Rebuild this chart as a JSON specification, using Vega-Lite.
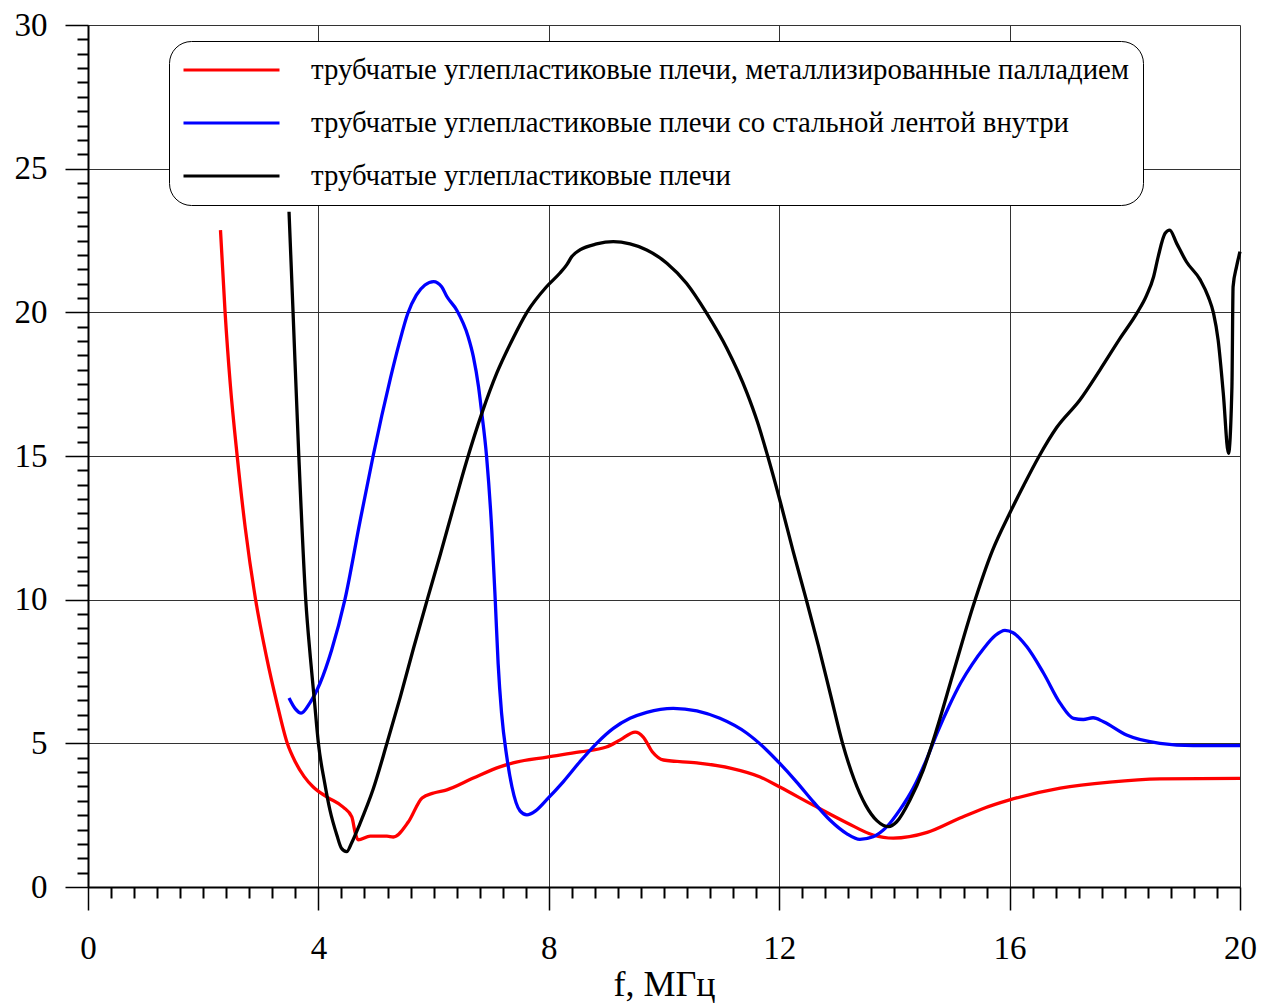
{
  "$schema": "https://vega.github.io/schema/vega-lite/v6.json",
  "width": 1152,
  "height": 862,
  "autosize": "none",
  "padding": {"left": 88, "top": 25, "right": 30, "bottom": 120},
  "background": "white",
  "config": {"view": {"stroke": null}, "font": "Liberation Serif"},
  "datasets": {
    "curves": [
      {"s": "трубчатые углепластиковые плечи, металлизированные палладием", "f": 2.30, "v": 22.86},
      {"s": "трубчатые углепластиковые плечи, металлизированные палладием", "f": 2.38, "v": 20.0},
      {"s": "трубчатые углепластиковые плечи, металлизированные палладием", "f": 2.47, "v": 17.5},
      {"s": "трубчатые углепластиковые плечи, металлизированные палладием", "f": 2.59, "v": 15.0},
      {"s": "трубчатые углепластиковые плечи, металлизированные палладием", "f": 2.73, "v": 12.5},
      {"s": "трубчатые углепластиковые плечи, металлизированные палладием", "f": 2.91, "v": 10.0},
      {"s": "трубчатые углепластиковые плечи, металлизированные палладием", "f": 3.10, "v": 8.0},
      {"s": "трубчатые углепластиковые плечи, металлизированные палладием", "f": 3.28, "v": 6.4},
      {"s": "трубчатые углепластиковые плечи, металлизированные палладием", "f": 3.46, "v": 5.0},
      {"s": "трубчатые углепластиковые плечи, металлизированные палладием", "f": 3.60, "v": 4.35},
      {"s": "трубчатые углепластиковые плечи, металлизированные палладием", "f": 3.75, "v": 3.85},
      {"s": "трубчатые углепластиковые плечи, металлизированные палладием", "f": 3.91, "v": 3.48},
      {"s": "трубчатые углепластиковые плечи, металлизированные палладием", "f": 4.15, "v": 3.13},
      {"s": "трубчатые углепластиковые плечи, металлизированные палладием", "f": 4.43, "v": 2.78},
      {"s": "трубчатые углепластиковые плечи, металлизированные палладием", "f": 4.58, "v": 2.44},
      {"s": "трубчатые углепластиковые плечи, металлизированные палладием", "f": 4.64, "v": 1.88},
      {"s": "трубчатые углепластиковые плечи, металлизированные палладием", "f": 4.69, "v": 1.64},
      {"s": "трубчатые углепластиковые плечи, металлизированные палладием", "f": 4.90, "v": 1.77},
      {"s": "трубчатые углепластиковые плечи, металлизированные палладием", "f": 5.19, "v": 1.77},
      {"s": "трубчатые углепластиковые плечи, металлизированные палладием", "f": 5.30, "v": 1.74},
      {"s": "трубчатые углепластиковые плечи, металлизированные палладием", "f": 5.56, "v": 2.26},
      {"s": "трубчатые углепластиковые плечи, металлизированные палладием", "f": 5.80, "v": 3.10},
      {"s": "трубчатые углепластиковые плечи, металлизированные палладием", "f": 6.00, "v": 3.27},
      {"s": "трубчатые углепластиковые плечи, металлизированные палладием", "f": 6.23, "v": 3.38},
      {"s": "трубчатые углепластиковые плечи, металлизированные палладием", "f": 6.69, "v": 3.79},
      {"s": "трубчатые углепластиковые плечи, металлизированные палладием", "f": 7.15, "v": 4.18},
      {"s": "трубчатые углепластиковые плечи, металлизированные палладием", "f": 7.38, "v": 4.32},
      {"s": "трубчатые углепластиковые плечи, металлизированные палладием", "f": 7.97, "v": 4.52},
      {"s": "трубчатые углепластиковые плечи, металлизированные палладием", "f": 8.54, "v": 4.70},
      {"s": "трубчатые углепластиковые плечи, металлизированные палладием", "f": 9.00, "v": 4.87},
      {"s": "трубчатые углепластиковые плечи, металлизированные палладием", "f": 9.24, "v": 5.12},
      {"s": "трубчатые углепластиковые плечи, металлизированные палладием", "f": 9.50, "v": 5.39},
      {"s": "трубчатые углепластиковые плечи, металлизированные палладием", "f": 9.64, "v": 5.22},
      {"s": "трубчатые углепластиковые плечи, металлизированные палладием", "f": 9.80, "v": 4.70},
      {"s": "трубчатые углепластиковые плечи, металлизированные палладием", "f": 9.99, "v": 4.42},
      {"s": "трубчатые углепластиковые плечи, металлизированные палладием", "f": 10.57, "v": 4.32},
      {"s": "трубчатые углепластиковые плечи, металлизированные палладием", "f": 11.15, "v": 4.14},
      {"s": "трубчатые углепластиковые плечи, металлизированные палладием", "f": 11.67, "v": 3.83},
      {"s": "трубчатые углепластиковые плечи, металлизированные палладием", "f": 12.01, "v": 3.48},
      {"s": "трубчатые углепластиковые плечи, металлизированные палладием", "f": 12.59, "v": 2.85},
      {"s": "трубчатые углепластиковые плечи, металлизированные палладием", "f": 13.18, "v": 2.23},
      {"s": "трубчатые углепластиковые плечи, металлизированные палладием", "f": 13.63, "v": 1.81},
      {"s": "трубчатые углепластиковые плечи, металлизированные палладием", "f": 13.98, "v": 1.70},
      {"s": "трубчатые углепластиковые плечи, металлизированные палладием", "f": 14.57, "v": 1.90},
      {"s": "трубчатые углепластиковые плечи, металлизированные палладием", "f": 15.14, "v": 2.40},
      {"s": "трубчатые углепластиковые плечи, металлизированные палладием", "f": 15.50, "v": 2.70},
      {"s": "трубчатые углепластиковые плечи, металлизированные палладием", "f": 16.00, "v": 3.03},
      {"s": "трубчатые углепластиковые плечи, металлизированные палладием", "f": 16.88, "v": 3.44},
      {"s": "трубчатые углепластиковые плечи, металлизированные палладием", "f": 17.74, "v": 3.65},
      {"s": "трубчатые углепластиковые плечи, металлизированные палладием", "f": 18.61, "v": 3.76},
      {"s": "трубчатые углепластиковые плечи, металлизированные палладием", "f": 20.00, "v": 3.78},

      {"s": "трубчатые углепластиковые плечи со стальной лентой внутри", "f": 3.49, "v": 6.58},
      {"s": "трубчатые углепластиковые плечи со стальной лентой внутри", "f": 3.60, "v": 6.20},
      {"s": "трубчатые углепластиковые плечи со стальной лентой внутри", "f": 3.70, "v": 6.05},
      {"s": "трубчатые углепластиковые плечи со стальной лентой внутри", "f": 3.85, "v": 6.40},
      {"s": "трубчатые углепластиковые плечи со стальной лентой внутри", "f": 4.03, "v": 7.10},
      {"s": "трубчатые углепластиковые плечи со стальной лентой внутри", "f": 4.23, "v": 8.25},
      {"s": "трубчатые углепластиковые плечи со стальной лентой внутри", "f": 4.46, "v": 10.0},
      {"s": "трубчатые углепластиковые плечи со стальной лентой внутри", "f": 4.72, "v": 12.7},
      {"s": "трубчатые углепластиковые плечи со стальной лентой внутри", "f": 4.95, "v": 15.0},
      {"s": "трубчатые углепластиковые плечи со стальной лентой внутри", "f": 5.10, "v": 16.4},
      {"s": "трубчатые углепластиковые плечи со стальной лентой внутри", "f": 5.25, "v": 17.7},
      {"s": "трубчатые углепластиковые плечи со стальной лентой внутри", "f": 5.40, "v": 18.9},
      {"s": "трубчатые углепластиковые плечи со стальной лентой внутри", "f": 5.55, "v": 19.95},
      {"s": "трубчатые углепластиковые плечи со стальной лентой внутри", "f": 5.70, "v": 20.6},
      {"s": "трубчатые углепластиковые плечи со стальной лентой внутри", "f": 5.85, "v": 20.95},
      {"s": "трубчатые углепластиковые плечи со стальной лентой внутри", "f": 6.00, "v": 21.07},
      {"s": "трубчатые углепластиковые плечи со стальной лентой внутри", "f": 6.14, "v": 20.89},
      {"s": "трубчатые углепластиковые плечи со стальной лентой внутри", "f": 6.23, "v": 20.55},
      {"s": "трубчатые углепластиковые плечи со стальной лентой внутри", "f": 6.40, "v": 20.08},
      {"s": "трубчатые углепластиковые плечи со стальной лентой внутри", "f": 6.60, "v": 19.15},
      {"s": "трубчатые углепластиковые плечи со стальной лентой внутри", "f": 6.69, "v": 18.46},
      {"s": "трубчатые углепластиковые плечи со стальной лентой внутри", "f": 6.78, "v": 17.41},
      {"s": "трубчатые углепластиковые плечи со стальной лентой внутри", "f": 6.83, "v": 16.60},
      {"s": "трубчатые углепластиковые плечи со стальной лентой внутри", "f": 6.92, "v": 14.98},
      {"s": "трубчатые углепластиковые плечи со стальной лентой внутри", "f": 7.01, "v": 12.42},
      {"s": "трубчатые углепластиковые плечи со стальной лентой внутри", "f": 7.07, "v": 9.99},
      {"s": "трубчатые углепластиковые плечи со стальной лентой внутри", "f": 7.12, "v": 7.79},
      {"s": "трубчатые углепластиковые плечи со стальной лентой внутри", "f": 7.18, "v": 6.05},
      {"s": "трубчатые углепластиковые плечи со стальной лентой внутри", "f": 7.27, "v": 4.54},
      {"s": "трубчатые углепластиковые плечи со стальной лентой внутри", "f": 7.36, "v": 3.49},
      {"s": "трубчатые углепластиковые плечи со стальной лентой внутри", "f": 7.50, "v": 2.65},
      {"s": "трубчатые углепластиковые плечи со стальной лентой внутри", "f": 7.62, "v": 2.51},
      {"s": "трубчатые углепластиковые плечи со стальной лентой внутри", "f": 7.77, "v": 2.65},
      {"s": "трубчатые углепластиковые плечи со стальной лентой внутри", "f": 7.96, "v": 3.03},
      {"s": "трубчатые углепластиковые плечи со стальной лентой внутри", "f": 8.25, "v": 3.66},
      {"s": "трубчатые углепластиковые плечи со стальной лентой внутри", "f": 8.54, "v": 4.36},
      {"s": "трубчатые углепластиковые плечи со стальной лентой внутри", "f": 8.83, "v": 5.00},
      {"s": "трубчатые углепластиковые плечи со стальной лентой внутри", "f": 9.12, "v": 5.52},
      {"s": "трубчатые углепластиковые плечи со стальной лентой внутри", "f": 9.41, "v": 5.87},
      {"s": "трубчатые углепластиковые плечи со стальной лентой внутри", "f": 9.70, "v": 6.08},
      {"s": "трубчатые углепластиковые плечи со стальной лентой внутри", "f": 10.16, "v": 6.22},
      {"s": "трубчатые углепластиковые плечи со стальной лентой внутри", "f": 10.57, "v": 6.13},
      {"s": "трубчатые углепластиковые плечи со стальной лентой внутри", "f": 10.97, "v": 5.87},
      {"s": "трубчатые углепластиковые плечи со стальной лентой внутри", "f": 11.44, "v": 5.35},
      {"s": "трубчатые углепластиковые плечи со стальной лентой внутри", "f": 11.78, "v": 4.77},
      {"s": "трубчатые углепластиковые плечи со стальной лентой внутри", "f": 12.01, "v": 4.30},
      {"s": "трубчатые углепластиковые плечи со стальной лентой внутри", "f": 12.30, "v": 3.66},
      {"s": "трубчатые углепластиковые плечи со стальной лентой внутри", "f": 12.59, "v": 2.97},
      {"s": "трубчатые углепластиковые плечи со стальной лентой внутри", "f": 12.88, "v": 2.33},
      {"s": "трубчатые углепластиковые плечи со стальной лентой внутри", "f": 13.17, "v": 1.86},
      {"s": "трубчатые углепластиковые плечи со стальной лентой внутри", "f": 13.40, "v": 1.66},
      {"s": "трубчатые углепластиковые плечи со стальной лентой внутри", "f": 13.63, "v": 1.75},
      {"s": "трубчатые углепластиковые плечи со стальной лентой внутри", "f": 13.87, "v": 2.10},
      {"s": "трубчатые углепластиковые плечи со стальной лентой внутри", "f": 14.10, "v": 2.70},
      {"s": "трубчатые углепластиковые плечи со стальной лентой внутри", "f": 14.33, "v": 3.45},
      {"s": "трубчатые углепластиковые плечи со стальной лентой внутри", "f": 14.55, "v": 4.40},
      {"s": "трубчатые углепластиковые плечи со стальной лентой внутри", "f": 14.75, "v": 5.40},
      {"s": "трубчатые углепластиковые плечи со стальной лентой внутри", "f": 14.95, "v": 6.30},
      {"s": "трубчатые углепластиковые плечи со стальной лентой внутри", "f": 15.15, "v": 7.10},
      {"s": "трубчатые углепластиковые плечи со стальной лентой внутри", "f": 15.35, "v": 7.75},
      {"s": "трубчатые углепластиковые плечи со стальной лентой внутри", "f": 15.55, "v": 8.30},
      {"s": "трубчатые углепластиковые плечи со стальной лентой внутри", "f": 15.75, "v": 8.75},
      {"s": "трубчатые углепластиковые плечи со стальной лентой внутри", "f": 15.92, "v": 8.93},
      {"s": "трубчатые углепластиковые плечи со стальной лентой внутри", "f": 16.06, "v": 8.85},
      {"s": "трубчатые углепластиковые плечи со стальной лентой внутри", "f": 16.30, "v": 8.36},
      {"s": "трубчатые углепластиковые плечи со стальной лентой внутри", "f": 16.59, "v": 7.44},
      {"s": "трубчатые углепластиковые плечи со стальной лентой внутри", "f": 16.88, "v": 6.39},
      {"s": "трубчатые углепластиковые плечи со стальной лентой внутри", "f": 17.11, "v": 5.87},
      {"s": "трубчатые углепластиковые плечи со стальной лентой внутри", "f": 17.28, "v": 5.83},
      {"s": "трубчатые углепластиковые плечи со стальной лентой внутри", "f": 17.45, "v": 5.89},
      {"s": "трубчатые углепластиковые плечи со стальной лентой внутри", "f": 17.63, "v": 5.75},
      {"s": "трубчатые углепластиковые плечи со стальной лентой внутри", "f": 18.03, "v": 5.29},
      {"s": "трубчатые углепластиковые плечи со стальной лентой внутри", "f": 18.61, "v": 5.00},
      {"s": "трубчатые углепластиковые плечи со стальной лентой внутри", "f": 19.19, "v": 4.92},
      {"s": "трубчатые углепластиковые плечи со стальной лентой внутри", "f": 20.00, "v": 4.92},

      {"s": "трубчатые углепластиковые плечи", "f": 3.49, "v": 23.5},
      {"s": "трубчатые углепластиковые плечи", "f": 3.56, "v": 20.0},
      {"s": "трубчатые углепластиковые плечи", "f": 3.66, "v": 15.0},
      {"s": "трубчатые углепластиковые плечи", "f": 3.78, "v": 10.0},
      {"s": "трубчатые углепластиковые плечи", "f": 3.86, "v": 8.0},
      {"s": "трубчатые углепластиковые плечи", "f": 3.93, "v": 6.5},
      {"s": "трубчатые углепластиковые плечи", "f": 4.00, "v": 5.0},
      {"s": "трубчатые углепластиковые плечи", "f": 4.11, "v": 3.61},
      {"s": "трубчатые углепластиковые плечи", "f": 4.20, "v": 2.68},
      {"s": "трубчатые углепластиковые плечи", "f": 4.32, "v": 1.81},
      {"s": "трубчатые углепластиковые плечи", "f": 4.40, "v": 1.35},
      {"s": "трубчатые углепластиковые плечи", "f": 4.49, "v": 1.23},
      {"s": "трубчатые углепластиковые плечи", "f": 4.58, "v": 1.55},
      {"s": "трубчатые углепластиковые плечи", "f": 4.72, "v": 2.20},
      {"s": "трубчатые углепластиковые плечи", "f": 4.95, "v": 3.40},
      {"s": "трубчатые углепластиковые плечи", "f": 5.19, "v": 5.0},
      {"s": "трубчатые углепластиковые плечи", "f": 5.42, "v": 6.6},
      {"s": "трубчатые углепластиковые плечи", "f": 5.65, "v": 8.3},
      {"s": "трубчатые углепластиковые плечи", "f": 5.89, "v": 10.0},
      {"s": "трубчатые углепластиковые плечи", "f": 6.12, "v": 11.6},
      {"s": "трубчатые углепластиковые плечи", "f": 6.35, "v": 13.25},
      {"s": "трубчатые углепластиковые плечи", "f": 6.57, "v": 14.8},
      {"s": "трубчатые углепластиковые плечи", "f": 6.84, "v": 16.5},
      {"s": "трубчатые углепластиковые плечи", "f": 7.10, "v": 17.9},
      {"s": "трубчатые углепластиковые плечи", "f": 7.38, "v": 19.1},
      {"s": "трубчатые углепластиковые плечи", "f": 7.62, "v": 20.0},
      {"s": "трубчатые углепластиковые плечи", "f": 7.96, "v": 20.89},
      {"s": "трубчатые углепластиковые плечи", "f": 8.19, "v": 21.36},
      {"s": "трубчатые углепластиковые плечи", "f": 8.31, "v": 21.65},
      {"s": "трубчатые углепластиковые плечи", "f": 8.40, "v": 21.94},
      {"s": "трубчатые углепластиковые плечи", "f": 8.54, "v": 22.17},
      {"s": "трубчатые углепластиковые плечи", "f": 8.83, "v": 22.38},
      {"s": "трубчатые углепластиковые плечи", "f": 9.12, "v": 22.46},
      {"s": "трубчатые углепластиковые плечи", "f": 9.41, "v": 22.38},
      {"s": "трубчатые углепластиковые плечи", "f": 9.70, "v": 22.17},
      {"s": "трубчатые углепластиковые плечи", "f": 10.05, "v": 21.71},
      {"s": "трубчатые углепластиковые плечи", "f": 10.39, "v": 21.01},
      {"s": "трубчатые углепластиковые плечи", "f": 10.74, "v": 19.97},
      {"s": "трубчатые углепластиковые плечи", "f": 11.09, "v": 18.75},
      {"s": "трубчатые углепластиковые плечи", "f": 11.44, "v": 17.20},
      {"s": "трубчатые углепластиковые плечи", "f": 11.62, "v": 16.20},
      {"s": "трубчатые углепластиковые плечи", "f": 11.80, "v": 15.0},
      {"s": "трубчатые углепластиковые плечи", "f": 12.02, "v": 13.4},
      {"s": "трубчатые углепластиковые плечи", "f": 12.24, "v": 11.7},
      {"s": "трубчатые углепластиковые плечи", "f": 12.47, "v": 10.0},
      {"s": "трубчатые углепластиковые плечи", "f": 12.68, "v": 8.4},
      {"s": "трубчатые углепластиковые плечи", "f": 12.89, "v": 6.7},
      {"s": "трубчатые углепластиковые плечи", "f": 13.10, "v": 5.0},
      {"s": "трубчатые углепластиковые плечи", "f": 13.30, "v": 3.75},
      {"s": "трубчатые углепластиковые плечи", "f": 13.50, "v": 2.85},
      {"s": "трубчатые углепластиковые плечи", "f": 13.70, "v": 2.30},
      {"s": "трубчатые углепластиковые плечи", "f": 13.90, "v": 2.10},
      {"s": "трубчатые углепластиковые плечи", "f": 14.04, "v": 2.27},
      {"s": "трубчатые углепластиковые плечи", "f": 14.27, "v": 3.03},
      {"s": "трубчатые углепластиковые плечи", "f": 14.50, "v": 4.07},
      {"s": "трубчатые углепластиковые плечи", "f": 14.73, "v": 5.46},
      {"s": "трубчатые углепластиковые плечи", "f": 15.02, "v": 7.44},
      {"s": "трубчатые углепластиковые плечи", "f": 15.37, "v": 9.80},
      {"s": "трубчатые углепластиковые плечи", "f": 15.70, "v": 11.7},
      {"s": "трубчатые углепластиковые плечи", "f": 16.00, "v": 13.0},
      {"s": "трубчатые углепластиковые плечи", "f": 16.25, "v": 14.0},
      {"s": "трубчатые углепластиковые плечи", "f": 16.50, "v": 14.95},
      {"s": "трубчатые углепластиковые плечи", "f": 16.82, "v": 16.0},
      {"s": "трубчатые углепластиковые плечи", "f": 17.22, "v": 16.95},
      {"s": "трубчатые углепластиковые плечи", "f": 17.57, "v": 18.0},
      {"s": "трубчатые углепластиковые плечи", "f": 17.92, "v": 19.1},
      {"s": "трубчатые углепластиковые плечи", "f": 18.21, "v": 19.97},
      {"s": "трубчатые углепластиковые плечи", "f": 18.38, "v": 20.60},
      {"s": "трубчатые углепластиковые плечи", "f": 18.50, "v": 21.24},
      {"s": "трубчатые углепластиковые плечи", "f": 18.58, "v": 21.94},
      {"s": "трубчатые углепластиковые плечи", "f": 18.70, "v": 22.75},
      {"s": "трубчатые углепластиковые плечи", "f": 18.78, "v": 22.86},
      {"s": "трубчатые углепластиковые плечи", "f": 18.90, "v": 22.40},
      {"s": "трубчатые углепластиковые плечи", "f": 19.07, "v": 21.76},
      {"s": "трубчатые углепластиковые плечи", "f": 19.31, "v": 21.13},
      {"s": "трубчатые углепластиковые плечи", "f": 19.45, "v": 20.54},
      {"s": "трубчатые углепластиковые плечи", "f": 19.54, "v": 19.97},
      {"s": "трубчатые углепластиковые плечи", "f": 19.62, "v": 19.04},
      {"s": "трубчатые углепластиковые плечи", "f": 19.71, "v": 17.18},
      {"s": "трубчатые углепластиковые плечи", "f": 19.80, "v": 15.09},
      {"s": "трубчатые углепластиковые плечи", "f": 19.86, "v": 17.41},
      {"s": "трубчатые углепластиковые плечи", "f": 19.88, "v": 20.89},
      {"s": "трубчатые углепластиковые плечи", "f": 19.94, "v": 21.59},
      {"s": "трубчатые углепластиковые плечи", "f": 20.00, "v": 22.11}
    ]
  },
  "data": {"name": "curves"},
  "layer": [
    {
      "mark": {"type": "line", "opacity": 0},
      "encoding": {
        "x": {
          "field": "f", "type": "quantitative",
          "scale": {"domain": [0, 20], "nice": false, "zero": false},
          "axis": {
            "orient": "bottom",
            "values": [0.4, 0.8, 1.2, 1.6, 2, 2.4, 2.8, 3.2, 3.6, 4.4, 4.8, 5.2, 5.6, 6, 6.4, 6.8, 7.2, 7.6, 8.4, 8.8, 9.2, 9.6, 10, 10.4, 10.8, 11.2, 11.6, 12.4, 12.8, 13.2, 13.6, 14, 14.4, 14.8, 15.2, 15.6, 16.4, 16.8, 17.2, 17.6, 18, 18.4, 18.8, 19.2, 19.6],
            "domain": false, "grid": false, "labels": false, "title": null,
            "ticks": true, "tickSize": 11, "tickWidth": 2, "tickColor": "#000"
          }
        },
        "y": {
          "field": "v", "type": "quantitative",
          "scale": {"domain": [0, 30], "nice": false, "zero": false},
          "axis": {
            "orient": "left",
            "values": [0.5, 1, 1.5, 2, 2.5, 3, 3.5, 4, 4.5, 5.5, 6, 6.5, 7, 7.5, 8, 8.5, 9, 9.5, 10.5, 11, 11.5, 12, 12.5, 13, 13.5, 14, 14.5, 15.5, 16, 16.5, 17, 17.5, 18, 18.5, 19, 19.5, 20.5, 21, 21.5, 22, 22.5, 23, 23.5, 24, 24.5, 25.5, 26, 26.5, 27, 27.5, 28, 28.5, 29, 29.5],
            "domain": false, "grid": false, "labels": false, "title": null,
            "ticks": true, "tickSize": 11, "tickWidth": 2, "tickColor": "#000"
          }
        }
      }
    },
    {
      "mark": {"type": "line", "strokeWidth": 3.3, "interpolate": "monotone"},
      "encoding": {
        "x": {
          "field": "f", "type": "quantitative",
          "scale": {"domain": [0, 20], "nice": false, "zero": false},
          "axis": {
            "orient": "bottom",
            "values": [0, 4, 8, 12, 16, 20],
            "grid": true, "gridColor": "#333", "gridWidth": 1, "gridOpacity": 1,
            "domain": true, "domainColor": "#000", "domainWidth": 2,
            "ticks": true, "tickSize": 23, "tickWidth": 1.5, "tickColor": "#000",
            "labelFont": "Liberation Serif", "labelFontSize": 33, "labelColor": "#000", "labelPadding": 22,
            "labelFlush": false, "labelOverlap": false,
            "title": "f,  МГц", "titleFont": "Liberation Serif", "titleFontSize": 36, "titleFontWeight": "normal", "titleColor": "#000", "titlePadding": 2
          }
        },
        "y": {
          "field": "v", "type": "quantitative",
          "scale": {"domain": [0, 30], "nice": false, "zero": false},
          "axis": {
            "orient": "left",
            "values": [0, 5, 10, 15, 20, 25, 30],
            "grid": true, "gridColor": "#333", "gridWidth": 1, "gridOpacity": 1,
            "domain": true, "domainColor": "#000", "domainWidth": 2,
            "ticks": true, "tickSize": 23, "tickWidth": 1.5, "tickColor": "#000",
            "labelFont": "Liberation Serif", "labelFontSize": 33, "labelColor": "#000", "labelPadding": 18,
            "labelFlush": false, "labelOverlap": false,
            "title": null
          }
        },
        "color": {
          "field": "s", "type": "nominal",
          "sort": ["трубчатые углепластиковые плечи, металлизированные палладием", "трубчатые углепластиковые плечи со стальной лентой внутри", "трубчатые углепластиковые плечи"],
          "scale": {
            "domain": ["трубчатые углепластиковые плечи, металлизированные палладием", "трубчатые углепластиковые плечи со стальной лентой внутри", "трубчатые углепластиковые плечи"],
            "range": ["#ff0000", "#0000ff", "#000000"]
          },
          "legend": {
            "orient": "none", "legendX": 81, "legendY": 16, "direction": "vertical",
            "title": null,
            "symbolType": "stroke", "symbolSize": 9216, "symbolStrokeWidth": 3,
            "clipHeight": 32,
            "labelFont": "Liberation Serif", "labelFontSize": 28.8, "labelColor": "#000", "labelOffset": 30, "labelLimit": 0,
            "strokeColor": "#000", "fillColor": "#fff", "cornerRadius": 22, "padding": 13, "rowPadding": 21
          }
        }
      }
    }
  ],
  "resolve": {"axis": {"x": "independent", "y": "independent"}}
}
